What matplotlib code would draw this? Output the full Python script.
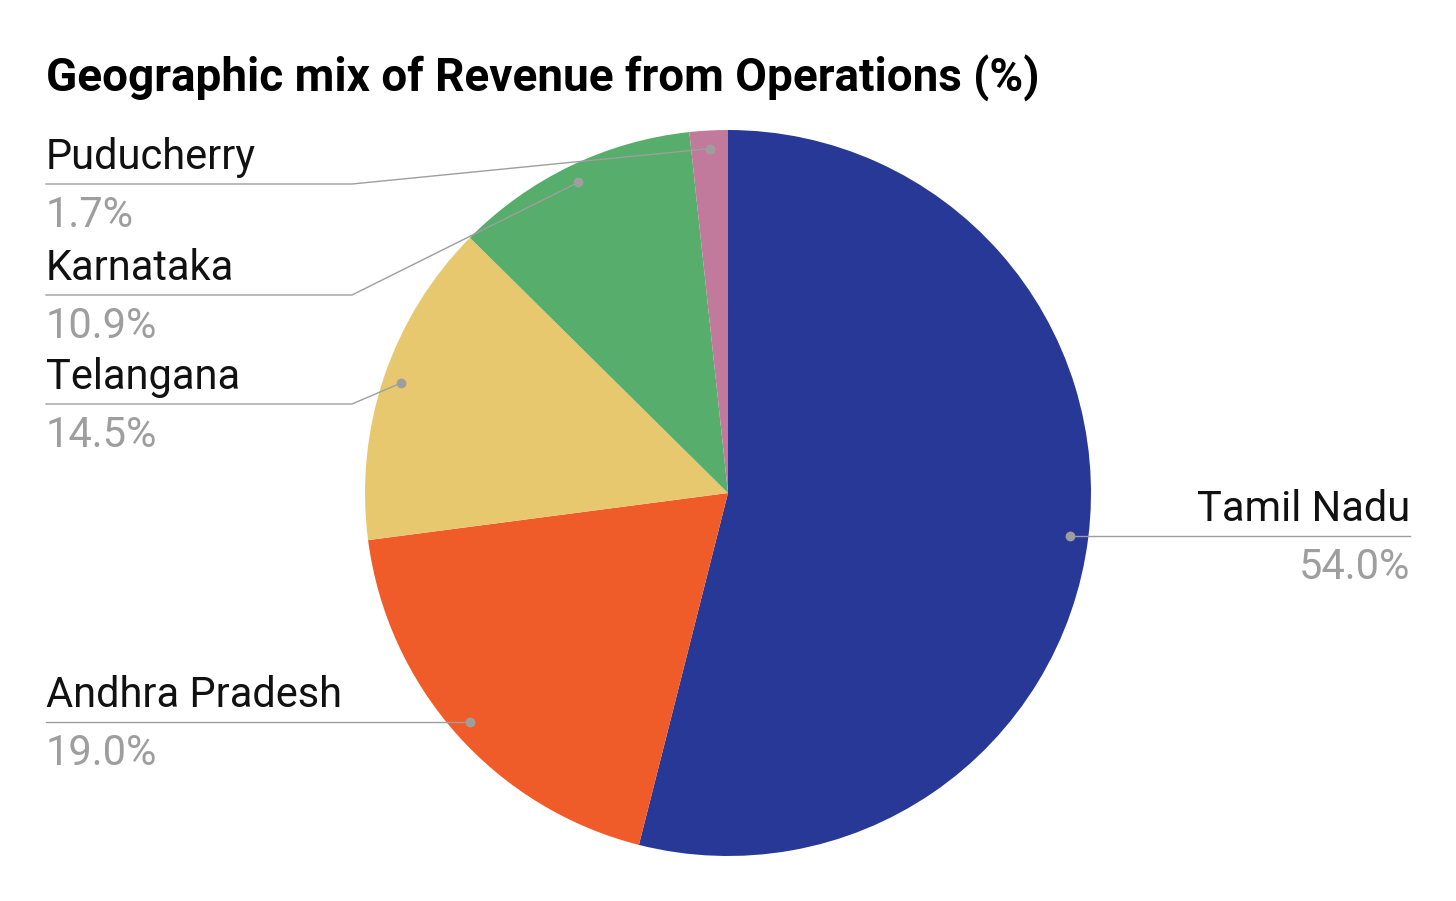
import matplotlib
matplotlib.use("Agg")
import matplotlib.pyplot as plt
import numpy as np

categories = ["Tamil Nadu", "Andhra Pradesh", "Telangana", "Karnataka", "Puducherry"]
values = [54.0, 19.0, 14.5, 10.9, 1.7]
colors = ["#283897", "#F05B2A", "#E8C86E", "#57AD6C", "#C27A9C"]
title = "Geographic mix of Revenue from Operations (%)"

W, H = 1456, 901
fig = plt.figure(figsize=(W / 100, H / 100), dpi=100)
ax = fig.add_axes([0, 0, 1, 1])

def Y(py):
    return H - py

cx, cy, R = 728, 493, 363
wedges, _ = ax.pie(values, colors=colors, startangle=90, counterclock=False,
                   center=(cx, Y(cy)), radius=R, frame=True,
                   wedgeprops=dict(linewidth=0))
ax.set_xlim(0, W)
ax.set_ylim(0, H)
ax.set_aspect("equal")
ax.axis("off")

gray = "#9E9E9E"
fs = 30
# leader layout: (line y px or None = horizontal at dot, side, elbow x)
layout = {
    "Tamil Nadu": (None, "right", None),
    "Andhra Pradesh": (None, "left", None),
    "Telangana": (404, "left", 352),
    "Karnataka": (295, "left", 352),
    "Puducherry": (184, "left", 352),
}
total = sum(values)
cum = 0
for name, v in zip(categories, values):
    mid = 90 - (cum + v / 2) / total * 360
    cum += v
    a = np.deg2rad(mid)
    dx = cx + 0.95 * R * np.cos(a)
    dy = Y(cy) + 0.95 * R * np.sin(a)
    ly, side, ex = layout[name]
    line_y = dy if ly is None else Y(ly)
    if side == "right":
        ax.plot([dx, 1410], [line_y, line_y], color=gray, lw=1, zorder=3)
        ax.text(1410, line_y + 15, name, ha="right", va="baseline", fontsize=fs,
                family="Roboto", color="#111111")
        ax.text(1410, line_y - 43, f"{v:.1f}%", ha="right", va="baseline", fontsize=fs,
                family="Roboto", color=gray)
    else:
        if ex is None:
            ax.plot([46, dx], [line_y, line_y], color=gray, lw=1, zorder=3)
        else:
            ax.plot([46, ex, dx], [line_y, line_y, dy], color=gray, lw=1, zorder=3)
        ax.text(46, line_y + 15, name, ha="left", va="baseline", fontsize=fs,
                family="Roboto", color="#111111")
        ax.text(46, line_y - 43, f"{v:.1f}%", ha="left", va="baseline", fontsize=fs,
                family="Roboto", color=gray)
    ax.scatter([dx], [dy], s=50, color=gray, zorder=4, linewidths=0)

ax.text(46, Y(92), title, ha="left", va="baseline", fontsize=33, fontweight="bold",
        family="Roboto", color="#000000")

fig.savefig("out.png", dpi=100)
